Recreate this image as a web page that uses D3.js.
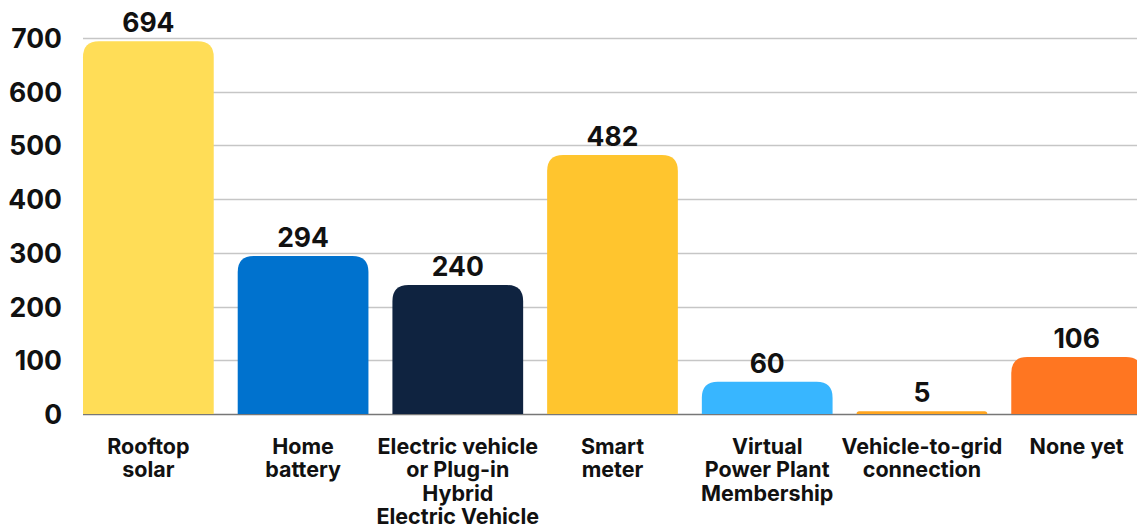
<!DOCTYPE html>
<html>
<head>
<meta charset="utf-8">
<script src="https://cdn.jsdelivr.net/npm/d3@7"></script>
<style>
  body { margin: 0; background: #fff; }
  svg text { font-family: "Inter", "Noto Sans", sans-serif; font-weight: 700; fill: #111; }
</style>
</head>
<body>
<div id="chart"></div>
<script>
// chart data
const categories = ["Rooftop solar", "Home battery", "Electric vehicle or Plug-in Hybrid Electric Vehicle",
                    "Smart meter", "Virtual Power Plant Membership", "Vehicle-to-grid connection", "None yet"];
const labelLines = [["Rooftop", "solar"], ["Home", "battery"], ["Electric vehicle", "or Plug-in", "Hybrid", "Electric Vehicle"],
                    ["Smart", "meter"], ["Virtual", "Power Plant", "Membership"], ["Vehicle-to-grid", "connection"], ["None yet"]];
const values = [694, 294, 240, 482, 60, 5, 106];
const barColors = ["#FFDD57", "#0072CE", "#0F2340", "#FFC52E", "#38B6FF", "#FFA51F", "#FF7621"];
const yTicks = [0, 100, 200, 300, 400, 500, 600, 700];

const width = 1137, height = 528;
const margin = {top: 38, right: 0, bottom: 114, left: 83};

const svg = d3.select("#chart")
    .append("svg")
    .attr("width", width)
    .attr("height", height);

// scales
const x = d3.scaleBand()
    .domain(categories)
    .range([margin.left, 1142])
    .paddingInner(0.155)
    .paddingOuter(0);

const y = d3.scaleLinear()
    .domain([0, 700])
    .range([height - margin.bottom, margin.top]);

// gridlines
svg.append("g")
    .selectAll("line")
    .data(yTicks)
    .enter()
    .append("line")
    .attr("x1", margin.left)
    .attr("x2", width)
    .attr("y1", d => Math.round(y(d)) + 0.5)
    .attr("y2", d => Math.round(y(d)) + 0.5)
    .attr("stroke", d => d === 0 ? "#777" : "#c6c6c6")
    .attr("stroke-width", 1.5);

// y tick labels
svg.append("g")
    .selectAll("text")
    .data(yTicks)
    .enter()
    .append("text")
    .attr("x", 62)
    .attr("y", d => y(d) + 10)
    .attr("text-anchor", "end")
    .attr("font-size", 26.5)
    .text(d => d);

// bars with rounded tops
function topRoundedBar(x0, y0, w, h, r) {
    r = Math.min(r, h, w / 2);
    return `M${x0},${y0 + h}V${y0 + r}Q${x0},${y0} ${x0 + r},${y0}H${x0 + w - r}Q${x0 + w},${y0} ${x0 + w},${y0 + r}V${y0 + h}Z`;
}

svg.append("g")
    .selectAll("path")
    .data(values)
    .enter()
    .append("path")
    .attr("d", (d, i) => topRoundedBar(x(categories[i]), y(d), x.bandwidth(), y(0) - y(d), 16))
    .attr("fill", (d, i) => barColors[i]);

// value labels
svg.append("g")
    .selectAll("text")
    .data(values)
    .enter()
    .append("text")
    .attr("x", (d, i) => x(categories[i]) + x.bandwidth() / 2)
    .attr("y", d => y(d) - 9)
    .attr("text-anchor", "middle")
    .attr("font-size", 26.5)
    .text(d => d);

// category labels
const catLabels = svg.append("g")
    .selectAll("text")
    .data(labelLines)
    .enter()
    .append("text")
    .attr("text-anchor", "middle")
    .attr("font-size", 21.5)
    .attr("transform", (d, i) => `translate(${x(categories[i]) + x.bandwidth() / 2}, 454)`);

catLabels.selectAll("tspan")
    .data(d => d)
    .enter()
    .append("tspan")
    .attr("x", 0)
    .attr("y", (d, j) => j * 23.3)
    .text(d => d);
</script>
</body>
</html>
